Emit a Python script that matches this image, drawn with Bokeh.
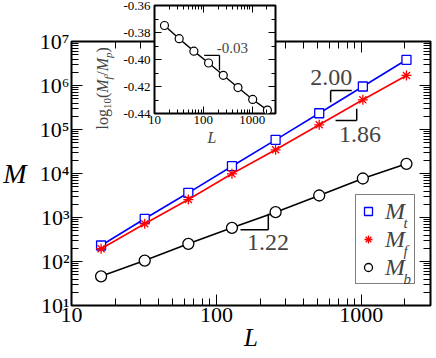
import math
from bokeh.plotting import figure
from bokeh.models import (LogAxis, LinearAxis, FixedTicker, Label, Legend, LegendItem,
                          PrintfTickFormatter, Range1d)
from bokeh.layouts import column
from bokeh.embed import file_html
from bokeh.resources import INLINE

# ---------------- data ----------------
L = [16, 32, 64, 128, 256, 512, 1024, 2048]
M_t = [231, 935, 3640, 14650, 58300, 234000, 948000, 3840000]
M_f = [195, 720, 2560, 9840, 34600, 128000, 473000, 1690000]
M_b = [46, 105, 252, 583, 1320, 3160, 7700, 16600]
log_ratio = [-0.3748, -0.3846, -0.3938, -0.4026, -0.4117, -0.4208, -0.4296, -0.4375]

x_tick_labels = {10: "10", 100: "100", 1000: "1000"}
y_tick_labels = {10: "10¹", 100: "10²", 1000: "10³", 10000: "10⁴",
                 100000: "10⁵", 1000000: "10⁶", 10000000: "10⁷"}
inset_y_ticks = [-0.44, -0.42, -0.40, -0.38, -0.36]
inset_y_minor = [-0.43, -0.41, -0.39, -0.37]
slope_texts = ["2.00", "1.86", "1.22"]
inset_slope_text = "-0.03"
series_names = ["M", "M", "M"]
series_subs = ["t", "f", "b"]
x_title = "L"
y_title = "M"

FONT = "'Liberation Serif', 'Times New Roman', serif"

def log_minors(lo_exp, hi_exp, extra=()):
    out = []
    for e in range(lo_exp, hi_exp):
        for m in range(2, 10):
            out.append(m * 10 ** e)
    return out + list(extra)

def style_axis(ax, major_in, minor_in, size, labels=True, standoff=3, ticks=None):
    ax.major_tick_in = major_in
    ax.major_tick_out = 0
    ax.minor_tick_in = minor_in
    ax.minor_tick_out = 0
    ax.axis_line_color = None
    ax.major_tick_line_color = "black"
    ax.minor_tick_line_color = "black"
    ax.major_tick_line_width = 1
    ax.minor_tick_line_width = 1
    ax.major_label_text_font = FONT
    ax.major_label_text_color = "black"
    ax.major_label_text_font_size = size
    if labels:
        ax.major_label_standoff = standoff
    else:
        ax.major_label_standoff = 0
        ax.major_label_overrides = {t: "" for t in ticks}

# ---------------- main plot ----------------
p = figure(width=436, height=358, x_axis_type="log", y_axis_type="log",
           x_range=Range1d(10, 3000), y_range=Range1d(10, 1e7),
           output_backend="svg", toolbar_location=None,
           min_border_left=68, min_border_right=3, min_border_top=41, min_border_bottom=53)
p.xgrid.visible = False
p.ygrid.visible = False
p.outline_line_color = "black"
p.outline_line_width = 2
p.border_fill_color = "white"

x_major = [10, 100, 1000]
x_minor = log_minors(1, 3, extra=[2000, 3000])
y_major = [10 ** k for k in range(1, 8)]
y_minor = log_minors(1, 7)

p.xaxis.ticker = FixedTicker(ticks=x_major, minor_ticks=x_minor)
p.yaxis.ticker = FixedTicker(ticks=y_major, minor_ticks=y_minor)
p.xaxis.major_label_overrides = x_tick_labels
p.yaxis.major_label_overrides = y_tick_labels
style_axis(p.xaxis[0], 11, 7, "22px", standoff=2)
style_axis(p.yaxis[0], 11, 7, "22px", standoff=2)

# x title as the bottom axis label
p.xaxis.axis_label = x_title
p.xaxis.axis_label_text_font = FONT
p.xaxis.axis_label_text_font_style = "italic"
p.xaxis.axis_label_text_font_size = "25px"
p.xaxis.axis_label_text_color = "black"
p.xaxis.axis_label_standoff = -1

top_ax = LogAxis(ticker=FixedTicker(ticks=x_major, minor_ticks=x_minor))
right_ax = LogAxis(ticker=FixedTicker(ticks=y_major, minor_ticks=y_minor))
style_axis(top_ax, 11, 7, "10px", labels=False, ticks=x_major)
style_axis(right_ax, 11, 7, "10px", labels=False, ticks=y_major)
p.add_layout(top_ax, "above")
p.add_layout(right_ax, "right")

# y title (horizontal) as the single label of an outer left axis
m_axis = LogAxis(ticker=FixedTicker(ticks=[10 ** 4], minor_ticks=[]),
                 major_label_overrides={10 ** 4: y_title})
style_axis(m_axis, 0, 0, "28px", standoff=10)
m_axis.major_label_text_font_style = "italic"
p.add_layout(m_axis, "left")

colors = ["#0000ff", "#ff0000", "black"]
markers = ["square", "asterisk", "circle"]
sizes = [9, 10, 11]
renderers = []
for ys, c, mk, sz in zip([M_t, M_f, M_b], colors, markers, sizes):
    p.line(L, ys, line_color=c, line_width=1.6)
    r = p.scatter(L, ys, marker=mk, size=sz, line_color=c, line_width=1.3,
                  fill_color="white")
    renderers.append(r)

legend = Legend(items=[LegendItem(label=n, renderers=[r]) for n, r in zip(series_names, renderers)],
                location=(284, 21), padding=2, spacing=0, glyph_width=20, glyph_height=20,
                label_standoff=7, label_width=27, label_height=28,
                label_text_font=FONT, label_text_font_style="italic",
                label_text_font_size="24px", border_line_color="black",
                border_line_width=1.5, background_fill_alpha=0, margin=0)
p.add_layout(legend)

# subscripts of the legend labels (frame-relative screen units)
for i, s in enumerate(series_subs):
    p.add_layout(Label(x=332, y=83 - 28 * i, x_units="screen", y_units="screen", text=s,
                       text_font=FONT, text_font_style="italic", text_font_size="15px",
                       text_baseline="alphabetic", text_align="left"))

# slope markers (annotation geometry in data units)
brackets = [
    ([614, 859], [7.7e5, 7.7e5], [614, 614], [7.7e5, 4.17e5]),
    ([664, 929], [1.6e5, 1.6e5], [929, 929], [1.6e5, 2.95e5]),
    ([146.6, 228], [525, 525], [228, 228], [525, 1213]),
]
for hx, hy, vx, vy in brackets:
    p.line(hx, hy, line_color="black", line_width=1.5)
    p.line(vx, vy, line_color="black", line_width=1.5)
slope_pos = [(621, 1.55e6), (979, 7.75e4), (227, 277)]
for t, (sx, sy) in zip(slope_texts, slope_pos):
    p.add_layout(Label(x=sx, y=sy, text=t, text_font=FONT, text_font_size="24px",
                       text_align="center", text_baseline="middle"))

# inset titles, drawn in the main frame (they lie inside it), frame-relative pixels
pieces = [("log", 16, "normal", False), ("10", 11, "normal", True), ("(", 16, "normal", False),
          ("M", 16, "italic", False), ("f", 11, "italic", True), ("/", 16, "normal", False),
          ("M", 16, "italic", False), ("p", 11, "italic", True), (")", 16, "normal", False)]
em = {"l": .278, "o": .5, "g": .5, "1": .5, "0": .5, "(": .333, ")": .333, "M": .833,
      "f": .34, "/": .278, "p": .5}
ypos = 176.0
for txt, fs, st, sub in pieces:
    p.add_layout(Label(x=31 + (5 if sub else 0), y=ypos, x_units="screen", y_units="screen",
                       text=txt, angle=math.pi / 2, text_font=FONT, text_font_style=st,
                       text_font_size=f"{fs}px", text_align="left", text_baseline="alphabetic"))
    ypos += sum(em[c] for c in txt) * fs
p.add_layout(Label(x=140.5, y=168, x_units="screen", y_units="screen", text=x_title,
                   text_font=FONT, text_font_style="italic", text_font_size="16px",
                   text_align="center", text_baseline="middle"))

# ---------------- inset ----------------
q = figure(width=198, height=147, x_axis_type="log",
           x_range=Range1d(10, 3000), y_range=Range1d(-0.44, -0.36),
           output_backend="svg", toolbar_location=None,
           min_border_left=60, min_border_right=6, min_border_top=7, min_border_bottom=32,
           margin=(-360, 0, 0, 83))
q.xgrid.visible = False
q.ygrid.visible = False
q.outline_line_color = "black"
q.outline_line_width = 2
q.background_fill_color = "white"
q.border_fill_alpha = 0

ix_minor = log_minors(1, 3, extra=[2000, 3000])
q.xaxis.ticker = FixedTicker(ticks=x_major, minor_ticks=ix_minor)
q.xaxis.major_label_overrides = x_tick_labels
q.yaxis.ticker = FixedTicker(ticks=inset_y_ticks, minor_ticks=inset_y_minor)
q.yaxis.formatter = PrintfTickFormatter(format="%.2f")
style_axis(q.xaxis[0], 7, 4, "13px", standoff=2)
style_axis(q.yaxis[0], 7, 4, "13px", standoff=4)
qtop = LogAxis(ticker=FixedTicker(ticks=x_major, minor_ticks=ix_minor))
qright = LinearAxis(ticker=FixedTicker(ticks=inset_y_ticks, minor_ticks=inset_y_minor))
style_axis(qtop, 7, 4, "6px", labels=False, ticks=x_major)
qright.formatter = PrintfTickFormatter(format=" ")
style_axis(qright, 7, 4, "6px", labels=True, standoff=0)
q.add_layout(qtop, "above")
q.add_layout(qright, "right")

q.line(L, log_ratio, line_color="black", line_width=1.4)
q.scatter(L, log_ratio, marker="circle", size=8, line_color="black", line_width=1.2,
          fill_color="white")

q.line([104, 214], [-0.3969, -0.3969], line_color="black", line_width=1.3)
q.line([214, 214], [-0.3969, -0.408], line_color="black", line_width=1.3)
q.add_layout(Label(x=393, y=-0.3914, text=inset_slope_text, text_font=FONT,
                   text_font_size="15px", text_align="center", text_baseline="middle"))

layout = column(p, q)
open("out.html", "w").write(file_html(layout, INLINE))
